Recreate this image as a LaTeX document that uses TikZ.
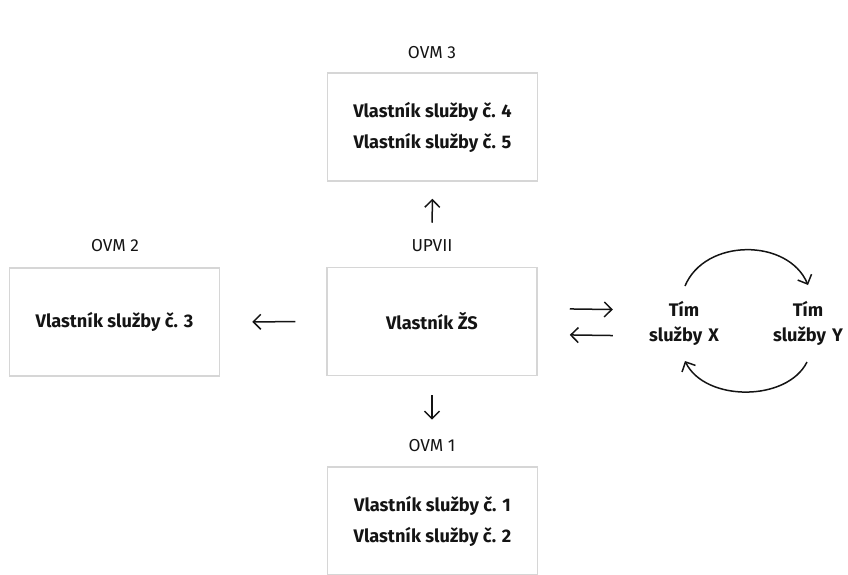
\documentclass[tikz,border=0pt]{standalone}
\usepackage{fontspec}
\setmainfont{Fira Sans}
\usetikzlibrary{arrows.meta}
\definecolor{boxgray}{HTML}{D6D6D6}
\definecolor{ink}{HTML}{141414}
\tikzset{
  boxnode/.style={draw=boxgray, line width=1.5pt, minimum width=210pt, minimum height=108pt,
    align=center, text=ink, font=\fontsize{18.2}{31}\selectfont\bfseries, inner sep=0pt},
  lbl/.style={text=ink, font=\fontsize{17.3}{20}\selectfont, inner sep=0pt},
  team/.style={text=ink, align=center, text width=72pt, font=\fontsize{18.2}{25}\selectfont\bfseries, inner sep=0pt},
  arr/.style={draw=ink, line width=1.5pt, -{Straight Barb[length=7.5pt,width=15pt]}}
}
\begin{document}
\begin{tikzpicture}[x=1pt,y=-1pt]
\useasboundingbox (0,0) rectangle (848,574);
\clip (0,0) rectangle (848,574);
% boxes
\node[boxnode] (ovm3box) at (432.5,127) {Vlastník služby č. 4\\Vlastník služby č. 5};
\node[boxnode] (cbox) at (432,321.5) {Vlastník ŽS};
\node[boxnode] (ovm2box) at (114.5,322) {Vlastník služby č. 3};
\node[boxnode] (ovm1box) at (432.5,521) {Vlastník služby č. 1\\Vlastník služby č. 2};
% labels
\node[lbl] (ovm3) at (432,53) {OVM 3};
\node[lbl] (upvii) at (432,246) {UPVII};
\node[lbl] (ovm2) at (115,246) {OVM 2};
\node[lbl] (ovm1) at (432,446) {OVM 1};
% teams
\node[team] (tx) at (684,323) {Tím\\služby X};
\node[team] (ty) at (808,323) {Tím\\služby Y};
% arrows
\draw[arr, shorten <=17pt, shorten >=17pt] (upvii.north) -- (ovm3box.south);
\draw[arr, shorten <=19pt, shorten >=20pt] (cbox.south) -- (ovm1.north);
\draw[arr, shorten <=31pt, shorten >=32pt] (cbox.west) -- (ovm2box.east);
\draw[arr, shorten <=32pt, shorten >=35pt] ([yshift=13pt]cbox.east) -- ([yshift=13pt]tx.west);
\draw[arr, shorten <=35pt, shorten >=32pt] ([yshift=-13pt]tx.west) -- ([yshift=-13pt]cbox.east);
% cycle arcs
\coordinate (c1s) at (685,286);
\coordinate (c1e) at (808,285);
\coordinate (c2s) at (807,362);
\coordinate (c2e) at (685,361);
\draw[arr] (c1s) .. controls (705,238) and (788,238) .. (c1e);
\draw[arr] (c2s) .. controls (787,402) and (705,402) .. (c2e);
\end{tikzpicture}
\end{document}
